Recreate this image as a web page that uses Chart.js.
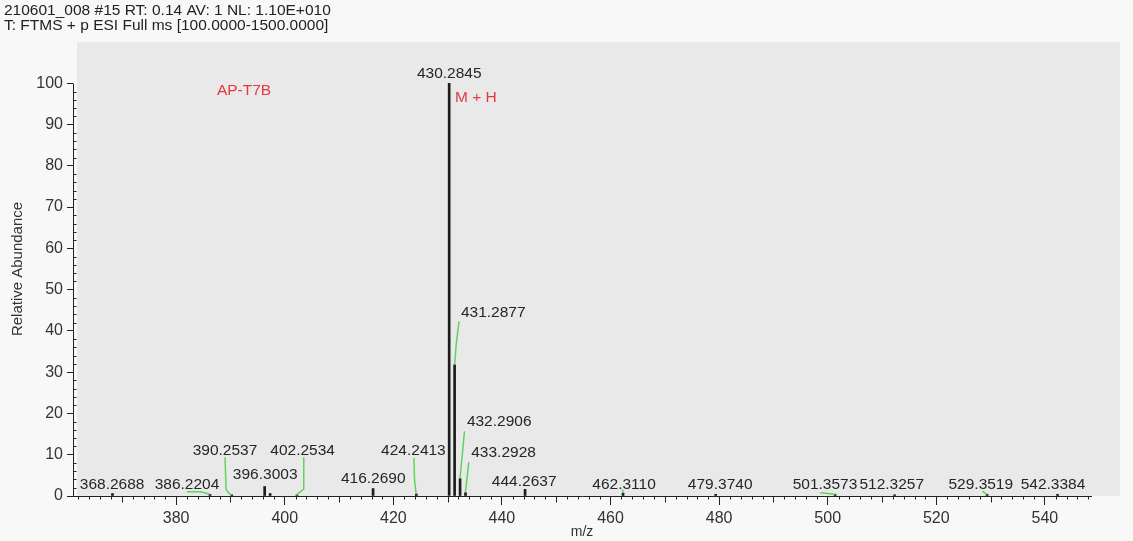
<!DOCTYPE html>
<html>
<head>
<meta charset="utf-8">
<script src="https://cdn.jsdelivr.net/npm/chart.js@4.4.1/dist/chart.umd.min.js"></script>
<style>
  html, body { margin: 0; padding: 0; background: #f8f8f8; }
  canvas { display: block; }
</style>
</head>
<body>
<canvas id="spectrum" width="1133" height="541"></canvas>
<script>
// scan header
const headerLines = [
  '210601_008 #15 RT: 0.14 AV: 1 NL: 1.10E+010',
  'T: FTMS + p ESI Full ms [100.0000-1500.0000]'
];

// centroid peaks
const peakMz = [368.2688, 386.2204, 390.2537, 396.3003, 397.3040, 402.2534, 416.2690, 424.2413,
  430.2845, 431.2877, 432.2906, 433.2928, 444.2637, 462.3110, 479.3740, 501.3573, 512.3257,
  529.3519, 542.3384];
const peakAbundance = [0.6, 0.4, 0.3, 2.3, 0.6, 0.3, 1.8, 0.5,
  100, 31.8, 4.2, 0.8, 1.6, 0.7, 0.4, 0.4, 0.3,
  0.4, 0.4];
const peakLabels = ['368.2688', '386.2204', '390.2537', '396.3003', '', '402.2534', '416.2690', '424.2413',
  '430.2845', '431.2877', '432.2906', '433.2928', '444.2637', '462.3110', '479.3740', '501.3573', '512.3257',
  '529.3519', '542.3384'];

// axis ticks
const xTicks = [380, 400, 420, 440, 460, 480, 500, 520, 540];
const yTicks = [0, 10, 20, 30, 40, 50, 60, 70, 80, 90, 100];

// where the labels sit (m/z, abundance of text centre) and their green leaders
const labelSpots = {
  '368.2688': [368.2, 2.8], '386.2204': [382.0, 2.8], '390.2537': [389.0, 10.9],
  '396.3003': [396.4, 5.1], '402.2534': [403.3, 10.9], '416.2690': [416.3, 4.1],
  '424.2413': [423.7, 10.9], '430.2845': [430.3, 102.4], '431.2877': [438.4, 44.5],
  '432.2906': [439.5, 17.9], '433.2928': [440.3, 10.4], '444.2637': [444.1, 3.5],
  '462.3110': [462.5, 2.8], '479.3740': [480.2, 2.8], '501.3573': [499.5, 2.8],
  '512.3257': [511.8, 2.8], '529.3519': [528.2, 2.8], '542.3384': [541.5, 2.8]
};
const leaders = {
  '386.2204': [[382.0, 1.0], [384.5, 1.0], [386.2, 0.4]],
  '390.2537': [[389.0, 9.4], [389.2, 1.5], [390.1, 0.2]],
  '402.2534': [[403.5, 9.4], [403.5, 1.7], [402.1, 0.2]],
  '424.2413': [[423.8, 9.2], [423.9, 4], [424.2, 0.5]],
  '431.2877': [[431.29, 31.8], [431.6, 37], [432.1, 42.3]],
  '432.2906': [[432.29, 4.3], [432.7, 10], [433.1, 15.7]],
  '433.2928': [[433.29, 1.0], [433.9, 8.2]],
  '462.3110': [[462.2, 1.6], [462.31, 0.7]],
  '501.3573': [[498.6, 0.8], [501.4, 0.4]],
  '529.3519': [[528.5, 1.2], [529.35, 0.4]]
};
const notes = [
  { text: 'AP-T7B', at: [392.5, 98.1] },
  { text: 'M + H', at: [435.2, 96.4] }
];

const FONT = "'Liberation Sans', Arial, sans-serif";

const backdrop = {
  id: 'backdrop',
  beforeDraw(chart) {
    const { ctx, chartArea: a, scales } = chart;
    ctx.save();
    ctx.fillStyle = '#f8f8f8';
    ctx.fillRect(0, 0, chart.width, chart.height);
    ctx.fillStyle = '#e9e9e9';
    const y0 = scales.y.getPixelForValue(0);
    ctx.fillRect(a.left + 4, a.top, a.right + 29 - (a.left + 4), y0 - a.top);
    ctx.restore();
  }
};

const axisMarks = {
  id: 'axisMarks',
  afterDraw(chart) {
    const { ctx, scales: { x, y } } = chart;
    const y0 = Math.round(y.getPixelForValue(0)) + 0.5;
    const xl = Math.round(x.left) + 0.5;
    ctx.save();
    ctx.strokeStyle = '#222';
    ctx.lineWidth = 1;
    ctx.beginPath();
    // y axis line, 0..100 only
    ctx.moveTo(xl, y0);
    ctx.lineTo(xl, Math.round(y.getPixelForValue(100)) + 0.5);
    // minor y ticks (inside)
    for (let v = 2; v < 100; v += 2) {
      if (v % 10 === 0) continue;
      const p = Math.round(y.getPixelForValue(v)) + 0.5;
      ctx.moveTo(xl, p);
      ctx.lineTo(xl + 3, p);
    }
    // minor x ticks (below)
    for (let v = 362; v <= 548; v += 2) {
      if (v % 20 === 0) continue;
      const p = Math.round(x.getPixelForValue(v)) + 0.5;
      ctx.moveTo(p, y0);
      ctx.lineTo(p, y0 + (v % 10 === 0 ? 6 : 3));
    }
    ctx.stroke();

    // green leaders
    ctx.strokeStyle = '#5fd35f';
    ctx.lineWidth = 1.5;
    Object.values(leaders).forEach(pts => {
      ctx.beginPath();
      pts.forEach(([m, a], k) => {
        const px = x.getPixelForValue(m), py = y.getPixelForValue(a);
        if (k === 0) ctx.moveTo(px, py); else ctx.lineTo(px, py);
      });
      ctx.stroke();
    });

    // peak labels
    ctx.font = '15.5px ' + FONT;
    ctx.textAlign = 'center';
    ctx.textBaseline = 'middle';
    ctx.fillStyle = '#262626';
    peakLabels.forEach(lbl => {
      if (!lbl) return;
      const [m, a] = labelSpots[lbl];
      ctx.fillText(lbl, x.getPixelForValue(m), y.getPixelForValue(a));
    });

    ctx.fillStyle = '#e3393f';
    notes.forEach(n => {
      ctx.fillText(n.text, x.getPixelForValue(n.at[0]), y.getPixelForValue(n.at[1]));
    });
    ctx.restore();
  }
};

new Chart(document.getElementById('spectrum'), {
  type: 'bar',
  data: {
    datasets: [{
      data: peakMz.map((m, i) => ({ x: m, y: peakAbundance[i] })),
      backgroundColor: '#1c1c1c',
      barThickness: 2,
      borderWidth: 0
    }]
  },
  options: {
    responsive: false,
    animation: false,
    layout: { padding: { left: 4, right: 42, top: 0, bottom: 0 } },
    plugins: {
      legend: { display: false },
      tooltip: { enabled: false },
      title: {
        display: true,
        text: headerLines,
        align: 'start',
        color: '#222',
        font: { family: FONT, size: 15.5, weight: 'normal', lineHeight: 0.935 },
        padding: { top: 3.75, bottom: 9.25 }
      }
    },
    scales: {
      x: {
        type: 'linear',
        offset: false,
        min: 361,
        max: 548.5,
        afterBuildTicks: s => { s.ticks = xTicks.map(v => ({ value: v })); },
        afterFit: s => { s.height = 45; },
        grid: { offset: false, drawOnChartArea: false, tickLength: 9, color: '#222' },
        border: { color: '#222' },
        ticks: { color: '#333', padding: 4, maxRotation: 0, font: { family: FONT, size: 16 } },
        title: { display: true, text: 'm/z', color: '#333', padding: { top: 0, bottom: 0 },
          font: { family: FONT, size: 14 } }
      },
      y: {
        min: 0,
        max: 110,
        afterBuildTicks: s => { s.ticks = yTicks.map(v => ({ value: v })); },
        afterFit: s => { s.width = 69; },
        grid: { drawOnChartArea: false, tickLength: 6, color: '#222' },
        border: { display: false },
        ticks: { color: '#333', padding: 4, font: { family: FONT, size: 16 } },
        title: { display: true, text: 'Relative Abundance', color: '#333', padding: { top: 5, bottom: 0 },
          font: { family: FONT, size: 15 } }
      }
    }
  },
  plugins: [backdrop, axisMarks]
});
</script>
</body>
</html>
